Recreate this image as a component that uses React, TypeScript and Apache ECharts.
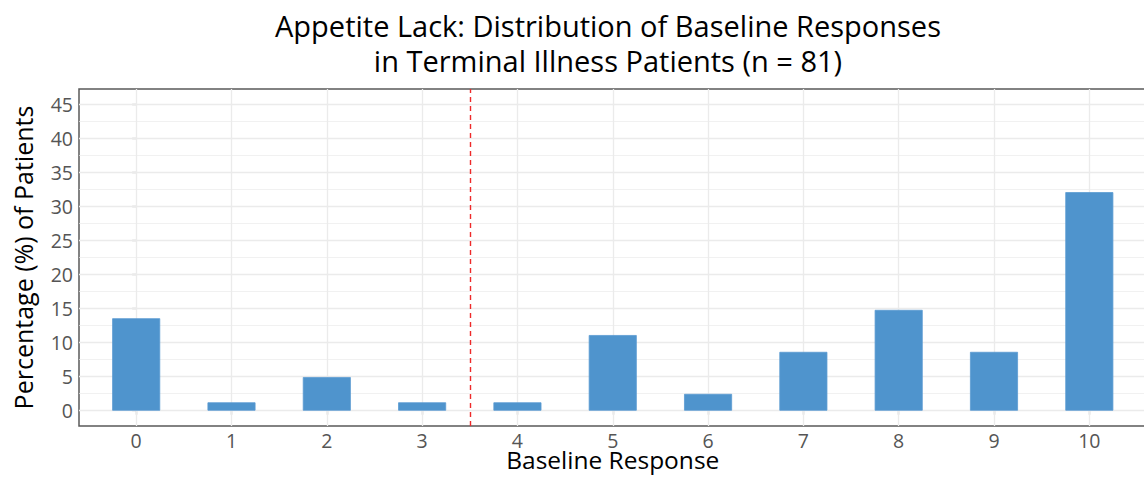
import React, { useEffect, useRef } from "react";
import * as echarts from "echarts";

const categories = [0, 1, 2, 3, 4, 5, 6, 7, 8, 9, 10];
const percentages = [13.58, 1.23, 4.94, 1.23, 1.23, 11.11, 2.47, 8.64, 14.81, 8.64, 32.1];
const yTickLabels = [0, 5, 10, 15, 20, 25, 30, 35, 40, 45];
const yMinorGrid = [2.5, 7.5, 12.5, 17.5, 22.5, 27.5, 32.5, 37.5, 42.5];
const cutoff = 3.5;
const titleLines = [
  "Appetite Lack: Distribution of Baseline Responses",
  "in Terminal Illness Patients (n = 81)",
];

const FONT = "'Open Sans', sans-serif";

export default function App() {
  const ref = useRef<HTMLDivElement>(null);
  useEffect(() => {
    if (!ref.current) return;
    const chart = echarts.init(ref.current, undefined, { renderer: "svg" });
    const gridColor = "#EBEBEB";
    chart.setOption({
      animation: false,
      backgroundColor: "#ffffff",
      title: titleLines.map((t, i) => ({
        text: t,
        left: 608,
        textAlign: "center",
        top: 8 + i * 35,
        padding: 0,
        textStyle: {
          fontFamily: FONT,
          fontSize: 29,
          fontWeight: "normal",
          color: "#000",
          lineHeight: 35,
        },
      })),
      grid: {
        left: 79,
        right: 3.5,
        top: 89,
        bottom: 57,
        outerBoundsMode: "none",
        containLabel: false,
        show: true,
        borderColor: "#5a5a5a",
        borderWidth: 1.5,
        backgroundColor: "#fff",
      },
      xAxis: {
        type: "value",
        min: -0.6,
        max: 10.6,
        name: "Baseline Response",
        nameLocation: "middle",
        nameGap: 22,
        nameMoveOverlap: false,
        nameTextStyle: { fontFamily: FONT, fontSize: 24.5, color: "#000", lineHeight: 22 },
        axisLine: { show: false },
        splitLine: { show: false },
        axisTick: {
          show: true,
          length: 4,
          lineStyle: { color: "#5a5a5a", width: 1.2 },
          customValues: categories,
        },
        axisLabel: {
          fontFamily: FONT,
          fontSize: 19.5,
          color: "#555",
          margin: 5,
          lineHeight: 18,
          customValues: categories,
        },
      },
      yAxis: {
        type: "value",
        min: -2.25,
        max: 47.25,
        name: "Percentage (%) of Patients",
        nameLocation: "middle",
        nameGap: 44,
        nameTextStyle: { fontFamily: FONT, fontSize: 25, color: "#000" },
        axisLine: { show: false },
        splitLine: { show: false },
        axisTick: {
          show: true,
          length: 4,
          lineStyle: { color: "#5a5a5a", width: 1.2 },
          customValues: yTickLabels,
        },
        axisLabel: {
          fontFamily: FONT,
          fontSize: 19.5,
          color: "#555",
          margin: 6,
          customValues: yTickLabels,
        },
      },
      series: [
        {
          type: "line",
          data: [],
          z: 1,
          silent: true,
          markLine: {
            z: 1,
            silent: true,
            symbol: "none",
            label: { show: false },
            animation: false,
            data: [
              ...yMinorGrid.map((v) => ({ yAxis: v, lineStyle: { color: gridColor, width: 0.7, type: "solid" } })),
              ...yTickLabels.map((v) => ({ yAxis: v, lineStyle: { color: gridColor, width: 1.3, type: "solid" } })),
              ...categories.map((v) => ({ xAxis: v, lineStyle: { color: gridColor, width: 1.3, type: "solid" } })),
            ],
          },
        },
        {
          type: "bar",
          z: 2,
          barWidth: 48,
          data: categories.map((c, i) => [c, percentages[i]]),
          itemStyle: { color: "#4F94CD", borderColor: "#5a9bd2", borderWidth: 0.8 },
        },
        {
          type: "line",
          data: [],
          z: 3,
          silent: true,
          markLine: {
            z: 6,
            silent: true,
            symbol: "none",
            label: { show: false },
            animation: false,
            data: [{ xAxis: cutoff, lineStyle: { color: "#ee2a2a", width: 1.4, type: [5, 4], opacity: 1 } }],
          },
        },
      ],
    });
    return () => chart.dispose();
  }, []);
  return (
    <div style={{ position: "absolute", left: 0, top: 0, width: 1144, height: 483, overflow: "hidden" }}>
      <div ref={ref} style={{ width: 1150, height: 483 }} />
    </div>
  );
}
